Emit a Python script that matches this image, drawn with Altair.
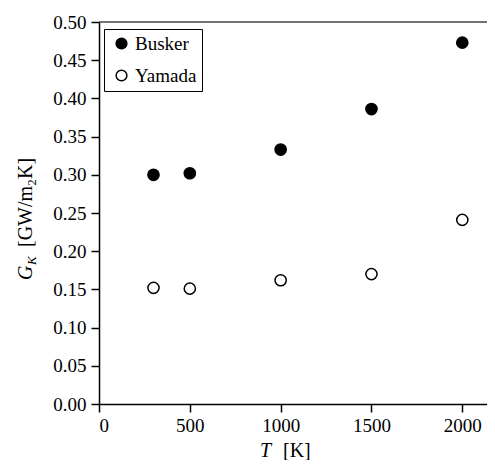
import altair as alt
import pandas as pd

# ---- data ----
temps = [300, 500, 1000, 1500, 2000]
busker = [0.300, 0.302, 0.333, 0.386, 0.473]
yamada = [0.152, 0.151, 0.162, 0.170, 0.241]
series_names = ["Busker", "Yamada"]
x_ticks = [0, 500, 1000, 1500, 2000]
y_ticks = [0.0, 0.05, 0.10, 0.15, 0.20, 0.25, 0.30, 0.35, 0.40, 0.45, 0.50]

df = pd.DataFrame({
    "T": temps + temps,
    "G": busker + yamada,
    "series": [series_names[0]] * len(temps) + [series_names[1]] * len(temps),
})

W, H = 388, 382
FONT = "Liberation Serif, Times New Roman, serif"

points = alt.Chart(df).mark_circle(
    size=125, stroke="black", strokeWidth=1.5, opacity=1
).encode(
    x=alt.X("T:Q", scale=alt.Scale(domain=[0, 2136], nice=False, zero=False),
            axis=alt.Axis(values=x_ticks, format="d", title=None, labelPadding=4,
                          labelFont=FONT, labelFontSize=19)),
    y=alt.Y("G:Q", scale=alt.Scale(domain=[0, 0.5], nice=False),
            axis=alt.Axis(values=y_ticks, format=".2f", title=None, labelPadding=5,
                          labelFont=FONT, labelFontSize=19)),
    fill=alt.Fill("series:N",
                  scale=alt.Scale(domain=series_names, range=["black", "white"]),
                  legend=alt.Legend(orient="none", legendX=5, legendY=7, title=None,
                                    strokeColor="black", fillColor="white", padding=5,
                                    labelFont=FONT, labelFontSize=19, labelColor="black",
                                    labelOffset=4, rowPadding=12, symbolOffset=3,
                                    symbolType="circle", symbolSize=115,
                                    symbolStrokeColor="black", symbolStrokeWidth=1.5)),
)

one = pd.DataFrame({"a": [0]})

top_rule = alt.Chart(one).mark_rule(color="#444", strokeWidth=1.5).encode(
    x=alt.value(0), x2=alt.value(W), y=alt.value(0)
)

def label(text, x, y, size=20, italic=False, angle=0):
    return alt.Chart(pd.DataFrame({"t": [text]})).mark_text(
        font=FONT, fontSize=size, fontStyle="italic" if italic else "normal",
        color="black", align="left", baseline="alphabetic", angle=angle
    ).encode(text="t:N", x=alt.value(x), y=alt.value(y))

x_title_T = label("T", 161, 435, italic=True)
x_title_K = label("[K]", 184, 435)
y_title_G = label("G", -67, 258, italic=True, angle=270)
y_title_sub = label("K", -63, 243, size=13, italic=True, angle=270)
y_title_rest = label("[GW/m₂K]", -67, 225, angle=270)

chart = alt.layer(
    top_rule, points, x_title_T, x_title_K, y_title_G, y_title_sub, y_title_rest
).properties(
    width=W, height=H,
    autosize=alt.AutoSizeParams(type="none"),
    padding={"left": 91, "top": 14, "right": 0, "bottom": 56},
).configure_view(stroke=None).configure_axis(
    grid=False, labelFont=FONT, labelFontSize=19, labelColor="black",
    domainColor="black", domainWidth=1.5, tickColor="black", tickWidth=1.5, tickSize=8,
)

chart.save("out.html", embed_options={"renderer": "svg", "actions": False})
